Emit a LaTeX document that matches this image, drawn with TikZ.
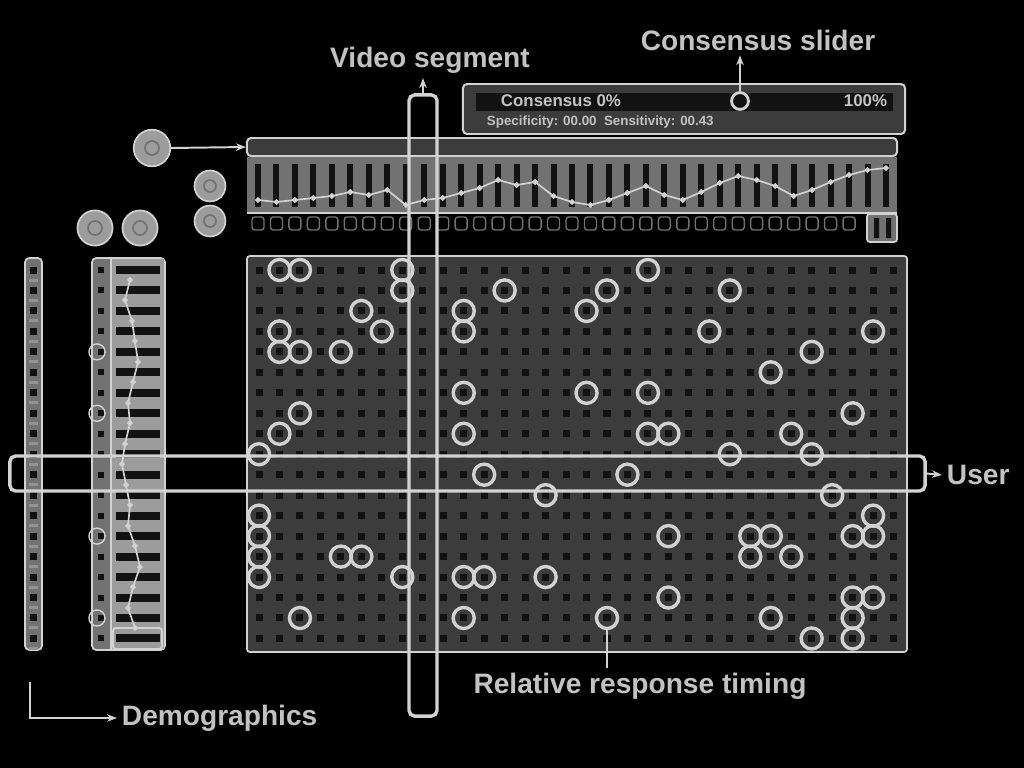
\documentclass[tikz,border=0pt]{standalone}
\usepackage{fontspec}
\setmainfont{Liberation Sans}
\usetikzlibrary{positioning, calc, arrows.meta}
\definecolor{uiPanel}{HTML}{3C3C3C}
\definecolor{uiMid}{HTML}{727272}
\definecolor{uiLight}{HTML}{9C9C9C}
\definecolor{uiDot}{HTML}{121212}
\definecolor{uiLine}{HTML}{D2D2D2}
\definecolor{uiText}{HTML}{C2C2C2}

\begin{document}
\begin{tikzpicture}[x=0.025cm, y=-0.025cm,
  panel/.style={draw=uiLine, fill=uiPanel, line width=1.2pt, rounded corners=3pt},
  band/.style={draw=uiLine, line width=2.4pt, rounded corners=4pt, inner sep=0pt},
  hit/.style={draw=uiLine, circle, line width=2.4pt, inner sep=0pt, minimum size=15pt},
  icon/.style={draw=uiLine, circle, fill=uiLight, line width=1.2pt, inner sep=0pt, minimum size=25pt},
  lbl/.style={text=uiText, font=\fontsize{20}{24}\selectfont\bfseries},
  arr/.style={-{Stealth[length=2.5mm]}, draw=uiLine, line width=1.4pt}
]
\path[use as bounding box, fill=black] (0,0) rectangle (1024,768);

% response matrix
\draw[panel, rounded corners=2pt] (247,256) rectangle (907,652);
\foreach \c in {0,...,31}
  \foreach \r in {0,...,18}
    \fill[uiDot] ({259+20.47*\c-3.5},{270+20.47*\r-3.5}) rectangle +(7,7);
\foreach \c/\r in {1/0,2/0,7/0,19/0, 7/1,12/1,17/1,23/1, 5/2,10/2,16/2,
    1/3,6/3,10/3,22/3,30/3, 1/4,2/4,4/4,27/4, 25/5, 10/6,16/6,19/6, 2/7,29/7,
    1/8,10/8,19/8,20/8,26/8, 0/9,23/9,27/9, 11/10,18/10, 14/11,28/11, 0/12,30/12,
    0/13,20/13,24/13,25/13,29/13,30/13, 0/14,4/14,5/14,24/14,26/14,
    0/15,7/15,10/15,11/15,14/15, 20/16,29/16,30/16, 2/17,10/17,17/17,25/17,29/17,
    27/18,29/18}
  \node[hit] (h-\c-\r) at ({259+20.47*\c},{270+20.47*\r}) {};

% demographics columns
\draw[panel, fill=uiMid] (25,258) rectangle (42,650);
\draw[panel, fill=uiMid] (92,258) rectangle (165,650);
\fill[uiLight] (112,259) rectangle (164,649);
\draw[uiLine, line width=1pt] (111,258) -- (111,650);
\foreach \r in {0,...,18} {
  \fill[uiDot] (30,{270+20.47*\r-3.5}) rectangle +(7,7);
  \fill[uiLine!70!black] (29,{280+20.47*\r-1.5}) rectangle +(9,3);
  \fill[uiDot] (98,{270+20.47*\r-3}) rectangle +(6,6);
  \fill[uiDot] (116,{270+20.47*\r-4}) rectangle (160,{270+20.47*\r+4});
}
\foreach \r in {4,7,13,17}
  \draw[uiLine, line width=1pt] (97,{270+20.47*\r}) circle (8);
\draw[uiLine, line width=1.4pt, rounded corners=2pt] (113,628) rectangle (162,649);
\draw[uiLine, line width=1.2pt] plot[mark=*, mark size=1.3pt] coordinates {
  (130,280) (125,300) (132,321) (135,341) (138,362) (133,382) (128,403) (130,423)
  (125,444) (122,464) (126,485) (130,505) (128,526) (135,546) (140,567) (133,587)
  (128,608) (135,628)};
\node[icon] (ageicon) at (95,228) {};
\node[icon] (sexicon) at (140,228) {};
\draw[uiMid, line width=1.2pt] (95,228) circle (7) (140,228) circle (7);

% video timeline and per-frame strip
\fill[uiMid] (247,157) rectangle (897,212);
\foreach \k in {0,...,34}
  \fill[uiDot] ({258+18.47*\k-3},164) rectangle ({258+18.47*\k+3},207);
\draw[uiLine, line width=1.2pt] plot[mark=*, mark size=1.4pt] coordinates {
  (258,200) (276.5,202) (294.9,200) (313.4,198) (331.9,196) (350.4,192) (368.8,195)
  (387.3,190) (405.8,205) (424.2,200) (442.7,198) (461.2,193) (479.6,188) (498.1,180)
  (516.6,185) (535.1,182) (553.5,196) (572,202) (590.5,205) (608.9,200) (627.4,193)
  (645.9,186) (664.3,195) (682.8,200) (701.3,192) (719.8,183) (738.2,176) (756.7,180)
  (775.2,186) (793.6,196) (812.1,190) (830.6,182) (849,175) (867.5,170) (886,168)};
\draw[uiLine, line width=1.6pt] (247,213) -- (897,213);
\foreach \k in {0,...,32}
  \draw[uiMid, line width=1pt, rounded corners=2pt] ({258+18.47*\k-6},217) rectangle ({258+18.47*\k+6},230);
\draw[uiLine, line width=1.2pt, fill=uiMid, rounded corners=2pt] (867,214) rectangle (897,242);
\fill[uiDot] (874,218) rectangle (879,238) (886,218) rectangle (891,238);
\node[draw=uiLine, fill=uiPanel, line width=1.4pt, rounded corners=3pt, inner sep=0pt,
  minimum width=16.25cm, minimum height=0.45cm] (timeline) at (572,147) {};
\node[icon, minimum size=26pt] (clock) at (152,148) {};
\draw[uiMid, line width=1.2pt] (152,148) circle (7);
\node[icon, minimum size=22pt] (viewicon) at (210,186) {};
\node[icon, minimum size=22pt] (listicon) at (210,221) {};
\draw[uiMid, line width=1.2pt] (210,186) circle (6) (210,221) circle (6);

% consensus slider
\node[draw=uiLine, fill=uiPanel, line width=1.4pt, rounded corners=3pt, inner sep=0pt,
  minimum width=11.05cm, minimum height=1.25cm] (slider) at (684,109) {};
\fill[uiDot] (476,93) rectangle (893,111);
\node[anchor=west, text=uiText, font=\fontsize{12}{14}\selectfont\bfseries] (cmin) at (496,101) {Consensus 0\%};
\node[anchor=east, text=uiText, font=\fontsize{12}{14}\selectfont\bfseries] (cmax) at (892,101) {100\%};
\node[anchor=west, text=uiText, font=\fontsize{9.5}{11}\selectfont\bfseries] (cstats) at (482,122) {Specificity: 00.00\; Sensitivity: 00.43};
\node[circle, draw=uiLine, fill=uiDot, line width=2pt, inner sep=0pt, minimum size=12pt] (knob) at (740,101) {};

% highlighted user row and video segment column
\node[band, minimum width=22.875cm, minimum height=0.875cm] (user) at (467.5,473.5) {};
\node[band, minimum width=0.7cm, minimum height=15.525cm] (vband) at (423,405.5) {};

% labels
\node[lbl] (vseg) at (430,60) {Video segment};
\node[lbl] (cslider) at (758,40) {Consensus slider};
\node[lbl, anchor=west] (ulabel) at (942,475) {User};
\node[lbl] (rrt) at (640,686) {Relative response timing};
\node[lbl, anchor=west] (demo) at (117,718) {Demographics};

\draw[arr] (vband.north) -- (vband.north |- vseg.south);
\draw[arr] (knob.north) -- (knob.north |- cslider.south);
\draw[arr] (user.east) -- (ulabel.west);
\draw[arr] (clock.east) -- (timeline.west);
\draw[uiLine, line width=1.4pt] (h-17-17.south) -- (h-17-17.south |- rrt.north);
\coordinate (demo-start) at (30,682);
\draw[arr] (demo-start) |- (demo.west);
\end{tikzpicture}
\end{document}
